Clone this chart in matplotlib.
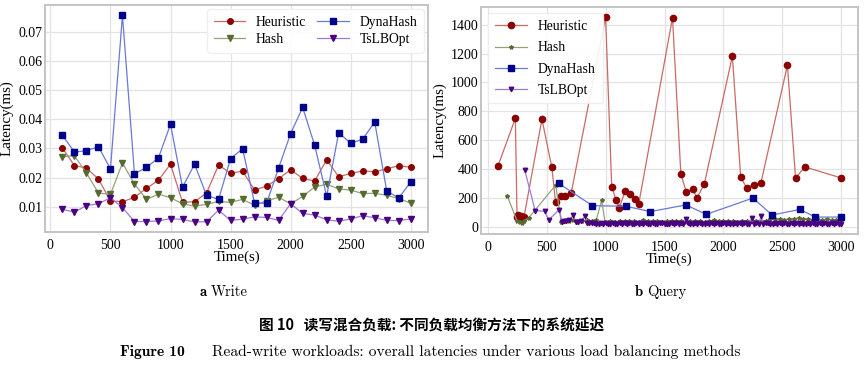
import matplotlib
matplotlib.use('Agg')
import matplotlib.pyplot as plt

# ---- (a) write workload: sampled every 100 s
write_time = list(range(100, 3001, 100))
write_heuristic = [0.0302, 0.0241, 0.0233, 0.0195, 0.0120, 0.0117, 0.0132, 0.0163, 0.0191, 0.0246,
                   0.0115, 0.0117, 0.0147, 0.0243, 0.0215, 0.0222, 0.0157, 0.0171, 0.0196, 0.0227,
                   0.0197, 0.0188, 0.0261, 0.0203, 0.0214, 0.0223, 0.0220, 0.0230, 0.0241, 0.0235]
write_hash = [0.0272, 0.0275, 0.0216, 0.0147, 0.0142, 0.0250, 0.0178, 0.0125, 0.0143, 0.0131,
              0.0110, 0.0102, 0.0108, 0.0118, 0.0115, 0.0125, 0.0105, 0.0120, 0.0132, 0.0110,
              0.0135, 0.0168, 0.0177, 0.0161, 0.0157, 0.0145, 0.0146, 0.0139, 0.0128, 0.0112]
write_dynahash = [0.0345, 0.0288, 0.0292, 0.0306, 0.0230, 0.0757, 0.0213, 0.0235, 0.0268, 0.0383,
                  0.0167, 0.0246, 0.0139, 0.0125, 0.0265, 0.0299, 0.0112, 0.0112, 0.0233, 0.0351,
                  0.0441, 0.0311, 0.0136, 0.0354, 0.0318, 0.0332, 0.0391, 0.0154, 0.0130, 0.0185]
write_tslbopt = [0.0091, 0.0081, 0.0104, 0.0110, 0.0131, 0.0097, 0.0049, 0.0049, 0.0051, 0.0059,
                 0.0056, 0.0048, 0.0048, 0.0088, 0.0053, 0.0057, 0.0065, 0.0063, 0.0053, 0.0110,
                 0.0077, 0.0071, 0.0055, 0.0050, 0.0058, 0.0069, 0.0062, 0.0053, 0.0052, 0.0058]

# ---- (b) query workload: irregular sampling
q_heur_t = [85, 232, 246, 258, 268, 280, 292, 305, 458, 542, 574, 616, 658, 706, 999, 1051, 1088, 1116,
            1164, 1209, 1249, 1280, 1568, 1639, 1686, 1740, 1777, 1839, 2077, 2148, 2198, 2258, 2320,
            2545, 2614, 2692, 3000]
q_heur = [422, 752, 65, 78, 62, 70, 58, 65, 745, 412, 168, 211, 211, 230, 1455, 277, 185, 130,
          246, 226, 190, 154, 1450, 364, 237, 258, 199, 298, 1183, 341, 270, 289, 305,
          1120, 336, 414, 338]

q_dyna_t = [599, 887, 1173, 1379, 1681, 1856, 2252, 2415, 2650, 2783, 3000]
q_dyna = [301, 145, 141, 104, 150, 85, 198, 80, 119, 66, 66]

q_hash_t = [164, 246, 270, 290, 305, 345, 575, 621, 650, 690, 720, 760, 800, 840, 880, 920, 966, 994] \
    + list(range(1040, 3001, 40))
q_hash = [210, 40, 35, 28, 40, 60, 288, 35, 42, 38, 48, 40, 38, 45, 42, 48, 182, 33,
          38, 35, 40, 36, 42, 37, 34, 45, 38, 36,
          40, 35, 38, 42, 36, 39, 34, 41, 37, 40,
          35, 38, 44, 36, 39, 37, 41, 35, 38, 40,
          36, 42, 38, 40, 52, 50, 53, 49, 51, 55,
          61, 52, 50, 48, 51, 47, 50, 46, 49, 48]

q_tsl_t = [311, 400, 480, 515, 605, 627, 645, 662, 690, 726, 745, 765, 790, 824] + list(range(840, 3001, 20))
q_tsl = [395, 110, 106, 45, 118, 35, 42, 40, 45, 80, 32, 35, 38, 72,
         28, 25, 22, 24, 20, 18, 22, 19, 24, 21,
         20, 23, 18, 21, 25, 19, 22, 20, 24, 18,
         21, 23, 19, 22, 20, 24, 18, 21, 23, 20,
         19, 22, 25, 18, 21, 20, 23, 19, 22, 21,
         24, 20, 55, 22, 18, 21, 23, 19, 22, 20,
         21, 24, 18, 22, 20, 23, 19, 21, 24, 20,
         22, 19, 21, 23, 18, 22, 20, 24, 19, 21,
         58, 18, 23, 20, 70, 19, 22, 24, 20, 21,
         23, 19, 22, 20, 24, 18, 21, 23, 19, 22,
         20, 24, 21, 18, 22, 20, 23, 19, 21, 24,
         20, 22, 18, 21, 23, 19, 22, 20, 21]

# line colour, marker colour
c_heur = ('#c86a66', '#8b0000')
c_hash = ('#93a27a', '#556b2f')
c_dyna = ('#6a78d6', '#00008b')
c_tsl = ('#9a7bd8', '#4b0082')

plt.rcParams['font.family'] = ['Liberation Serif', 'DejaVu Serif']
plt.rcParams['font.size'] = 10

fig = plt.figure(figsize=(8.65, 3.65), dpi=100)
ax1 = fig.add_axes([0.052, 0.364, 0.443, 0.622])
ax2 = fig.add_axes([0.556, 0.358, 0.436, 0.624])


def style(ax):
    ax.grid(True, color='#e3e3e3', linewidth=0.9)
    ax.set_axisbelow(True)
    for s in ax.spines.values():
        s.set_color('#c4c4c4')
        s.set_linewidth(1.4)
    ax.tick_params(length=0, labelsize=10)
    ax.tick_params(axis='x', pad=5)
    ax.tick_params(axis='y', pad=2)
    ax.set_xlabel('Time(s)', fontsize=10.8, labelpad=-1)
    ax.set_ylabel('Latency(ms)', fontsize=10.8, labelpad=3)


def draw(ax, x, y, c, marker, ms, label):
    ax.plot(x, y, color=c[0], linewidth=0.9, marker=marker, markersize=ms,
            markerfacecolor=c[1], markeredgecolor=c[1], label=label)


draw(ax1, write_time, write_heuristic, c_heur, 'o', 4, 'Heuristic')
draw(ax1, write_time, write_hash, c_hash, 'v', 4, 'Hash')
draw(ax1, write_time, write_dynahash, c_dyna, 's', 4.2, 'DynaHash')
draw(ax1, write_time, write_tslbopt, c_tsl, 'v', 4, 'TsLBOpt')
style(ax1)
ax1.set_xticks(range(0, 3001, 500))
ax1.set_yticks([0.01, 0.02, 0.03, 0.04, 0.05, 0.06, 0.07])
ax1.legend(ncol=2, loc='upper right', fontsize=9.8, frameon=True, edgecolor='#eeeeee',
           framealpha=0.9, columnspacing=0.8, handlelength=2.3, borderpad=0.5, labelspacing=0.3,
           borderaxespad=0.3)

draw(ax2, q_heur_t, q_heur, c_heur, 'o', 4.5, 'Heuristic')
draw(ax2, q_hash_t, q_hash, c_hash, '*', 3, 'Hash')
draw(ax2, q_dyna_t, q_dyna, c_dyna, 's', 4.5, 'DynaHash')
draw(ax2, q_tsl_t, q_tsl, c_tsl, 'v', 3.2, 'TsLBOpt')
style(ax2)
ax2.set_xticks(range(0, 3001, 500))
ax2.set_yticks(range(0, 1401, 200))
ax2.legend(loc='upper left', fontsize=9.8, frameon=True, edgecolor='#eeeeee',
           framealpha=0.9, handlelength=2.4, borderpad=0.5, labelspacing=0.6)

# sub captions
fig.text(207 / 865, 1 - 292 / 365, 'a', family='cmb10', fontsize=10.5, ha='right', va='center')
fig.text(211 / 865, 1 - 292 / 365, 'Write', family='cmr10', fontsize=10.5, ha='left', va='center')
fig.text(643 / 865, 1 - 292 / 365, 'b', family='cmb10', fontsize=10.5, ha='right', va='center')
fig.text(647 / 865, 1 - 292 / 365, 'Query', family='cmr10', fontsize=10.5, ha='left', va='center')

fig.text(432 / 865, 1 - 326 / 365, '图 10   读写混合负载: 不同负载均衡方法下的系统延迟',
         family=['Noto Sans CJK SC', 'DejaVu Sans'], fontweight='bold', fontsize=10.5,
         ha='center', va='center')
fig.text(120 / 865, 1 - 352 / 365, 'Figure 10', family='cmb10', fontsize=11.2, ha='left', va='center')
fig.text(212 / 865, 1 - 352 / 365,
         'Read-write workloads: overall latencies under various load balancing methods',
         family='cmr10', fontsize=11.2, ha='left', va='center')

fig.savefig('out.png', dpi=100)
